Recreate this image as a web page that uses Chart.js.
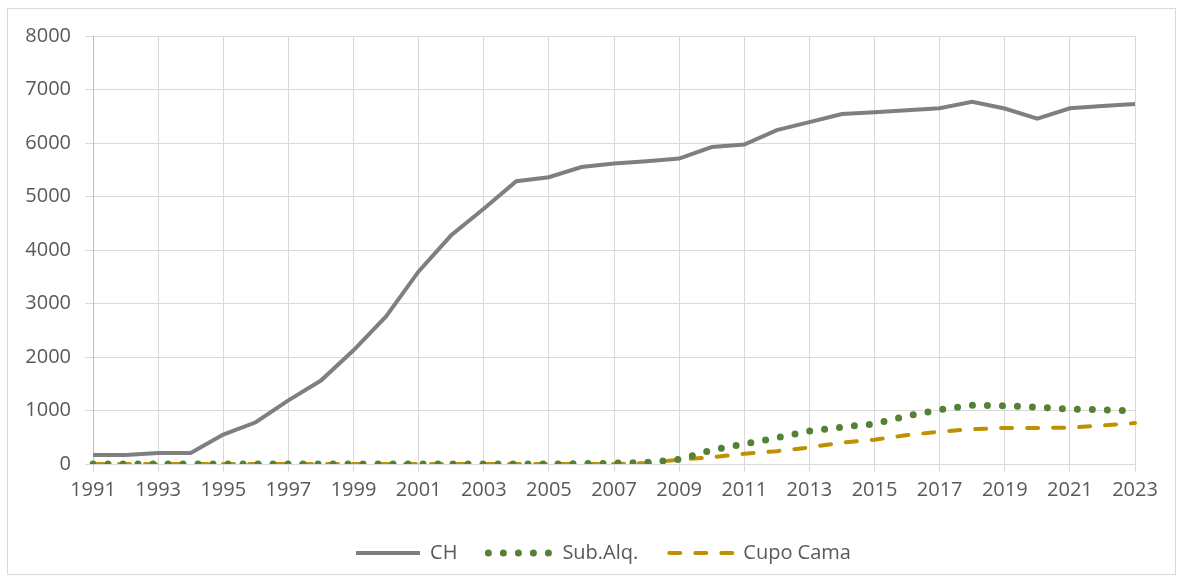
<!DOCTYPE html>
<html>
<head>
<meta charset="utf-8">
<script src="https://cdn.jsdelivr.net/npm/chart.js@4/dist/chart.umd.min.js"></script>
<style>
  body { margin: 0; background: #fff; }
  #wrap { position: relative; width: 1183px; height: 581px; }
</style>
</head>
<body>
<div id="wrap"><canvas id="myChart" width="1183" height="581"></canvas></div>
<script>
var years = [];
for (var y = 1991; y <= 2023; y++) years.push(String(y));

var ch = [170, 170, 206, 206, 550, 780, 1190, 1560, 2125, 2758, 3600, 4275, 4770, 5285, 5360, 5550, 5615,
  5660, 5710, 5925, 5970, 6240, 6390, 6540, 6575, 6610, 6650, 6770, 6645, 6455, 6650, 6690, 6730];
var subAlq = [0, 0, 0, 0, 0, 0, 0, 0, 0, 0, 0, 0, 0, 0, 0, 5, 15,
  30, 85, 260, 375, 490, 615, 690, 750, 900, 1015, 1100, 1090, 1060, 1025, 1015, 990];
var cupoCama = [0, 0, 0, 0, 0, 0, 0, 0, 0, 0, 0, 0, 0, 0, 0, 0, 0,
  20, 80, 125, 190, 240, 310, 400, 455, 540, 605, 650, 675, 675, 680, 720, 765];

var txt = '#595959';
var gridCol = '#d9d9d9';
var fontFam = '"Open Sans", "Liberation Sans", sans-serif';

var frame = {
  id: 'frame',
  beforeDraw: function(chart) {
    var c = chart.ctx;
    c.save();
    c.strokeStyle = gridCol;
    c.lineWidth = 1;
    c.strokeRect(7.5, 8.5, 1168, 566);
    c.restore();
  }
};

function everyOther(ctx) {
  return ctx.index % 2 === 0 ? gridCol : 'rgba(0,0,0,0)';
}

new Chart("myChart", {
  type: "line",
  data: {
    labels: years,
    datasets: [{
      label: "CH",
      data: ch,
      borderColor: "#7f7f7f",
      backgroundColor: "#7f7f7f",
      borderWidth: 4,
      fill: false
    }, {
      label: "Sub.Alq.",
      data: subAlq,
      borderColor: "#548235",
      backgroundColor: "#548235",
      borderWidth: 7,
      borderDash: [0, 15],
      borderCapStyle: "round",
      fill: false
    }, {
      label: "Cupo Cama",
      data: cupoCama,
      borderColor: "#bf9000",
      backgroundColor: "#bf9000",
      borderWidth: 4,
      borderDash: [11, 15],
      borderCapStyle: "round",
      fill: false
    }]
  },
  options: {
    responsive: false,
    animation: false,
    events: [],
    layout: { padding: { top: 36, right: 0, left: 24, bottom: 8 } },
    elements: { point: { radius: 0 }, line: { tension: 0 } },
    scales: {
      x: {
        offset: false,
        grid: { color: everyOther, tickColor: everyOther, tickLength: 8 },
        border: { color: gridCol },
        ticks: {
          autoSkip: false,
          maxRotation: 0,
          padding: 6,
          color: txt,
          font: { family: fontFam, size: 20 },
          callback: function(v, i) { return i % 2 === 0 ? this.getLabelForValue(v) : ''; }
        },
        afterFit: function(s) { s.height = 48; s.paddingRight = 48; s.paddingLeft = 0; }
      },
      y: {
        min: 0,
        max: 8000,
        grid: { color: gridCol, tickLength: 8 },
        border: { color: '#bfbfbf' },
        ticks: {
          stepSize: 1000,
          padding: 14,
          color: txt,
          font: { family: fontFam, size: 20 },
          callback: function(v) { return String(v); }
        },
        afterFit: function(s) { s.width = 69; }
      }
    },
    plugins: {
      legend: {
        position: "bottom",
        labels: {
          usePointStyle: true,
          pointStyleWidth: 64,
          padding: 31,
          color: txt,
          font: { family: fontFam, size: 20 },
          generateLabels: function(chart) {
            return chart.data.datasets.map(function(ds, i) {
              return {
                text: ds.label,
                datasetIndex: i,
                pointStyle: 'line',
                fillStyle: ds.borderColor,
                strokeStyle: ds.borderColor,
                fontColor: txt,
                lineWidth: ds.borderWidth,
                lineDash: ds.borderDash || [],
                lineCap: ds.borderCapStyle || 'butt',
                hidden: false
              };
            });
          }
        }
      },
      tooltip: { enabled: false }
    }
  },
  plugins: [frame]
});
</script>
</body>
</html>
